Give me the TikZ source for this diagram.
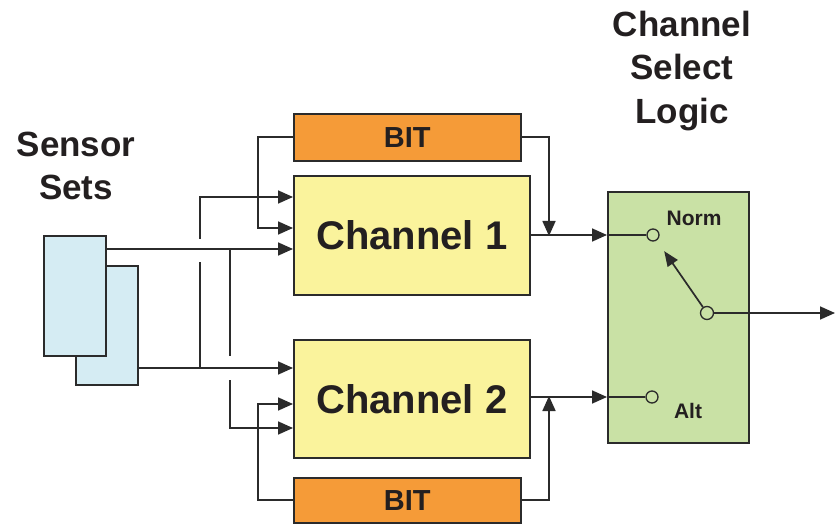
\documentclass[tikz,border=0pt]{standalone}
\usepackage{fontspec}
\setmainfont{Liberation Sans}
\usetikzlibrary{arrows.meta,calc}
\definecolor{sensorc}{HTML}{D5ECF3}
\definecolor{bitc}{HTML}{F59B38}
\definecolor{chanc}{HTML}{FAF39C}
\definecolor{selc}{HTML}{C9E1A5}
\definecolor{linec}{HTML}{2B2B2B}
\definecolor{textc}{HTML}{231F20}
\newcommand{\chanfont}{\fontsize{40}{48}\selectfont\bfseries}
\newcommand{\bitfont}{\fontsize{29}{34}\selectfont\bfseries}
\newcommand{\titlefont}{\fontsize{35}{42}\selectfont\bfseries}
\newcommand{\smlfont}{\fontsize{21}{25}\selectfont\bfseries}
\begin{document}
\begin{tikzpicture}[x=1pt,y=-1pt,
  box/.style={draw=linec, line width=1.6pt, inner sep=0pt, anchor=north west, text=textc},
  conn/.style={draw=linec, line width=1.7pt},
  arr/.style={conn, -{Triangle[length=15pt,width=13pt]}},
  termc/.style={circle, draw=linec, line width=1.3pt, minimum size=12pt, inner sep=0pt},
  lbl/.style={text=textc, inner sep=0pt}]
\useasboundingbox (0,0) rectangle (835,526);

% titles
\node[lbl, anchor=base, font=\titlefont] (t1) at (682,37) {Channel};
\node[lbl, anchor=base, font=\titlefont] (t2) at (682,80) {Select};
\node[lbl, anchor=base, font=\titlefont] (t3) at (682,124) {Logic};
\node[lbl, anchor=base, font=\titlefont] (s1l) at (76,157) {Sensor};
\node[lbl, anchor=base, font=\titlefont] (s2l) at (76,200) {Sets};

% sensors
\node[box, fill=sensorc, minimum width=62pt, minimum height=119pt] (s2) at (75,265) {};
\node[box, fill=sensorc, minimum width=62pt, minimum height=120pt] (s1) at (43,235) {};

% boxes
\node[box, fill=bitc, minimum width=227pt, minimum height=47pt, font=\bitfont] (bit1) at (293,113) {BIT};
\node[box, fill=chanc, minimum width=236pt, minimum height=119pt, font=\chanfont] (ch1) at (293,175) {Channel 1};
\node[box, fill=chanc, minimum width=236pt, minimum height=118pt, font=\chanfont] (ch2) at (293,339) {Channel 2};
\node[box, fill=bitc, minimum width=227pt, minimum height=45pt, font=\bitfont] (bit2) at (293,477) {BIT};
\node[box, fill=selc, minimum width=141pt, minimum height=251pt] (sel) at (607,191) {};

% switch terminals
\node[termc] (norm) at (653,235) {};
\node[termc] (alt) at (652,397) {};
\node[termc, minimum size=13pt] (piv) at (707,313) {};
\node[lbl, font=\smlfont] (normlbl) at (694,218) {Norm};
\node[lbl, font=\smlfont] (altlbl) at (688,411) {Alt};
\coordinate (out) at (835,313);

% sensor connections
\draw[arr] (s1.east |- 0,249) -- (ch1.west |- 0,249);
\draw[arr] (s2.east |- 0,368) -- (ch2.west |- 0,368);
\draw[conn] (230,249) -- (230,356);
\draw[arr] (230,380) |- (ch2.west |- 0,428);
\draw[conn] (200,368) -- (200,262);
\draw[arr] (200,239) |- (ch1.west |- 0,197);

% BIT loops
\draw[arr] (bit1.west) -| (258,228) -- (ch1.west |- 0,228);
\draw[arr] (bit1.east) -| (549,236);
\draw[arr] (bit2.west) -| (258,404) -- (ch2.west |- 0,404);
\draw[arr] (bit2.east) -| (549,396);

% channel outputs
\draw[arr] (ch1.east |- 0,235) -- (sel.west |- 0,235);
\draw[arr] (ch2.east |- 0,397) -- (sel.west |- 0,397);
\draw[conn, line width=1.3pt] (sel.west |- 0,235) -- (norm.west);
\draw[conn, line width=1.3pt] (sel.west |- 0,397) -- (alt.west);

% switch
\draw[conn, -{Triangle[length=15pt,width=12pt]}, shorten >=13pt] (piv) -- (norm);
\draw[arr] (piv) -- (out);
\end{tikzpicture}
\end{document}
